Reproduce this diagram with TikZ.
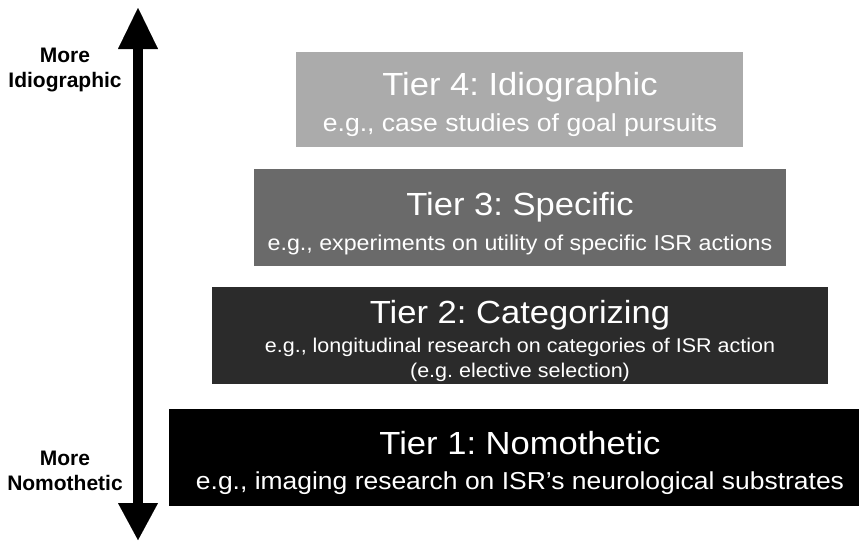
\documentclass[tikz,border=0pt]{standalone}
\usepackage{fontspec}
\setmainfont{Liberation Sans}
\newfontfamily\tierfont[FakeStretch=1.08]{Liberation Sans}
\usetikzlibrary{arrows.meta}
\definecolor{tfour}{HTML}{ABABAB}
\definecolor{tthree}{HTML}{6A6A6A}
\definecolor{ttwo}{HTML}{2B2B2B}
\definecolor{tone}{HTML}{000000}
\frenchspacing
\tikzset{
  tierbox/.style={draw=none, inner sep=0pt, outer sep=0pt, anchor=center},
  tiertitle/.style={text=white, inner sep=0pt, anchor=base, font=\tierfont\frenchspacing\fontsize{32}{36}\selectfont},
  tiersub/.style={text=white, inner sep=0pt, anchor=base, font=\tierfont\frenchspacing\fontsize{#1}{#1}\selectfont},
  sidelbl/.style={text=black, inner sep=0pt, anchor=base, font=\bfseries\fontsize{21}{24}\selectfont},
}
\begin{document}
\begin{tikzpicture}[x=1pt,y=-1pt]
\useasboundingbox (0,0) rectangle (859,541);
% boxes
\node[tierbox, fill=tfour, minimum width=447pt, minimum height=95pt] (t4) at (519.5,99.5) {};
\node[tierbox, fill=tthree, minimum width=532pt, minimum height=97pt] (t3) at (520,217.5) {};
\node[tierbox, fill=ttwo, minimum width=616pt, minimum height=97pt] (t2) at (520,335.5) {};
\node[tierbox, fill=tone, minimum width=690pt, minimum height=97pt] (t1) at (514,457.5) {};
% texts
\node[tiertitle] (t4title) at (520,95) {Tier 4: Idiographic};
\node[tiersub=24.6] (t4sub) at (520,131) {e.g., case studies of goal pursuits};
\node[tiertitle] (t3title) at (520,215) {Tier 3: Specific};
\node[tiersub=21.5] (t3sub) at (520,250) {e.g., experiments on utility of specific ISR actions};
\node[tiertitle] (t2title) at (520,323) {Tier 2: Categorizing};
\node[tiersub=19.9] (t2sub) at (520,352) {e.g., longitudinal research on categories of ISR action};
\node[tiersub=19.9] (t2subb) at (520,377) {(e.g. elective selection)};
\node[tiertitle] (t1title) at (520,454) {Tier 1: Nomothetic};
\node[tiersub=24.5] (t1sub) at (520,489) {e.g., imaging research on ISR’s neurological substrates};
% side labels
\node[sidelbl] (moreA) at (65,62) {More};
\node[sidelbl] (idio) at (65,87) {Idiographic};
\node[sidelbl] (moreB) at (65,465) {More};
\node[sidelbl] (nomo) at (65,490) {Nomothetic};
% arrow
\coordinate (atop) at (138,8);
\coordinate (abot) at (138,540);
\draw[line width=10pt, {Triangle[length=41pt,width=40pt,line width=0.01pt]}-{Triangle[length=37pt,width=40pt,line width=0.01pt]}] (atop) -- (abot);
\end{tikzpicture}
\end{document}
